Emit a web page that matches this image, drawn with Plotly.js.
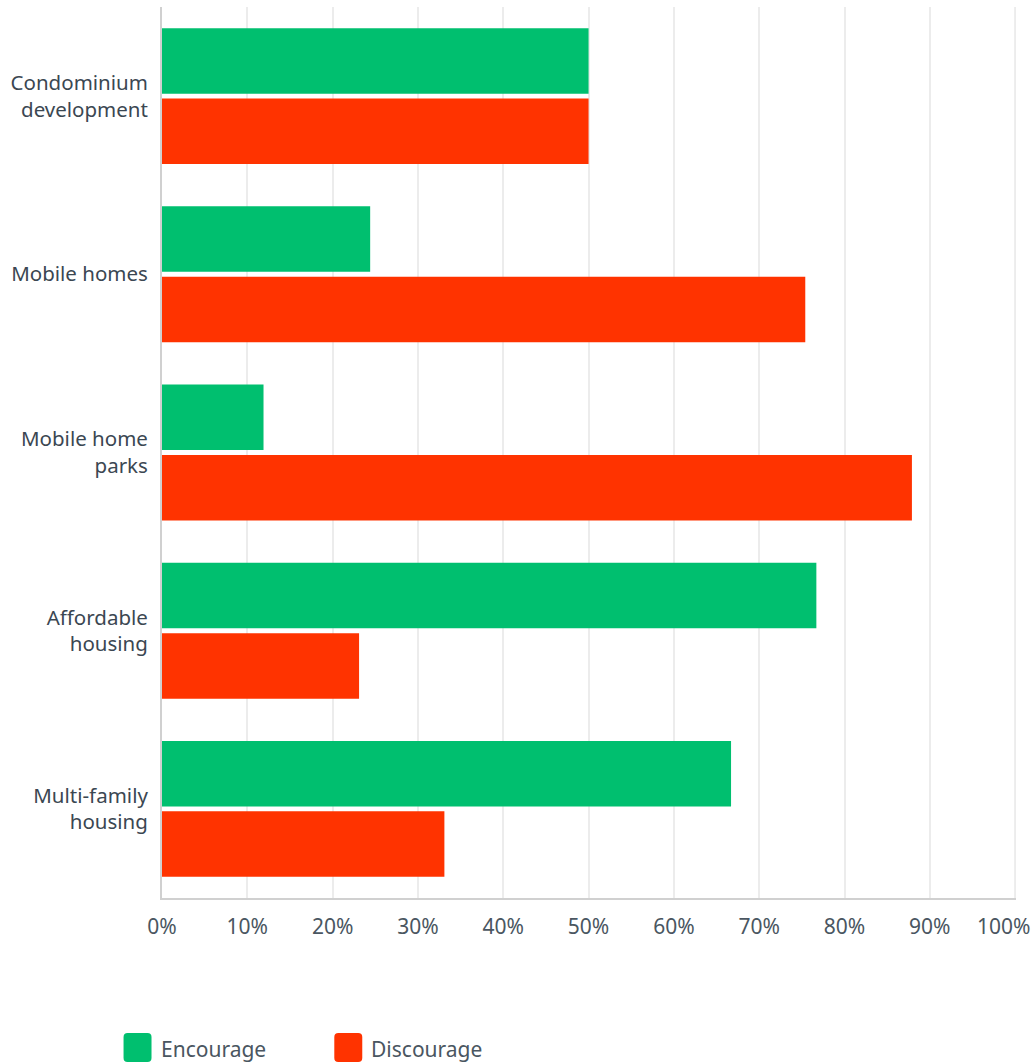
<!DOCTYPE html>
<html>
<head>
<meta charset="utf-8">
<script src="https://cdn.plot.ly/plotly-3.0.1.min.js"></script>
<style>html,body{margin:0;padding:0;background:#fff;}#chart{width:1036px;height:1063px;}</style>
</head>
<body>
<div id="chart"></div>
<script>
const categories = ["Condominium<br>development", "Mobile homes", "Mobile home<br>parks", "Affordable<br>housing", "Multi-family<br>housing"];
const encourage = [50.0, 24.4, 11.9, 76.7, 66.7];
const discourage = [50.0, 75.4, 87.9, 23.1, 33.1];
const seriesNames = ["Encourage", "Discourage"];
const colors = ["#00bf6f", "#ff3300"];
const tickVals = [0, 10, 20, 30, 40, 50, 60, 70, 80, 90, 100];
const tickText = ["0%", "10%", "20%", "30%", "40%", "50%", "60%", "70%", "80%", "90%", "100%"];

const FONT = "Noto Sans, Open Sans, sans-serif";
const traces = [encourage, discourage].map((vals, i) => ({
  type: "bar", orientation: "h", name: seriesNames[i],
  y: categories, x: vals,
  marker: {color: colors[i]}, hoverinfo: "x+y", showlegend: false
}));

const PL = 161.5, PW = 855, PB = 898, PH = 891;
const px = v => (v - PL) / PW;        // page x pixel -> paper x
const py = v => -(v - PB) / PH;       // page y pixel -> paper y
const shapes = [], annotations = [];
// gridline at the right end of the range
const last = tickVals.length - 1;
shapes.push({type: "line", xref: "x", yref: "paper", x0: tickVals[last], x1: tickVals[last],
  y0: 0, y1: 1, line: {color: "#ececec", width: 2}, layer: "below"});
// last tick label, kept inside the page like the reference
annotations.push({xref: "x", yref: "paper", x: tickVals[last], y: py(926),
  xanchor: "right", yanchor: "middle", xshift: 18, showarrow: false,
  text: tickText[last], font: {family: FONT, size: 21, color: "#4a5661"}});
const shownTicks = tickText.map((t, i) => i === last ? "" : t);

// custom legend (large rounded squares)
const legX = [123, 334];
seriesNames.forEach((n, i) => {
  const x0 = legX[i], x1 = legX[i] + 28, y0 = 1033, y1 = 1062, r = 4;
  const path = `M ${px(x0 + r)} ${py(y0)} L ${px(x1 - r)} ${py(y0)} Q ${px(x1)} ${py(y0)} ${px(x1)} ${py(y0 + r)} ` +
    `L ${px(x1)} ${py(y1 - r)} Q ${px(x1)} ${py(y1)} ${px(x1 - r)} ${py(y1)} ` +
    `L ${px(x0 + r)} ${py(y1)} Q ${px(x0)} ${py(y1)} ${px(x0)} ${py(y1 - r)} ` +
    `L ${px(x0)} ${py(y0 + r)} Q ${px(x0)} ${py(y0)} ${px(x0 + r)} ${py(y0)} Z`;
  shapes.push({type: "path", xref: "paper", yref: "paper", path: path,
    line: {width: 0}, fillcolor: colors[i], layer: "above"});
  annotations.push({xref: "paper", yref: "paper",
    x: px(legX[i] + 35), y: py(1049),
    xanchor: "left", yanchor: "middle", showarrow: false,
    text: n, font: {family: FONT, size: 21, color: "#4a5661"}});
});

const layout = {
  width: 1036, height: 1063,
  margin: {l: 161.5, r: 19.5, t: 7, b: 165},
  paper_bgcolor: "#fff", plot_bgcolor: "#fff",
  barmode: "group", bargap: 0.21, bargroupgap: 0.07,
  showlegend: false,
  font: {family: FONT, color: "#3b4752"},
  xaxis: {range: [0, 100.1], tickvals: tickVals, ticktext: shownTicks,
    showgrid: true, gridcolor: "#ececec", gridwidth: 2,
    zeroline: false, showline: true, linecolor: "#d0d0d0", linewidth: 2,
    ticks: "", ticklabelstandoff: 9,
    tickfont: {family: FONT, size: 21, color: "#4a5661"}, fixedrange: true},
  yaxis: {autorange: "reversed", type: "category",
    showgrid: false, zeroline: false, showline: true, linecolor: "#d0d0d0", linewidth: 2,
    ticks: "", ticklabelstandoff: 8,
    tickfont: {family: FONT, size: 20.5, color: "#3b4752"}, fixedrange: true},
  shapes: shapes, annotations: annotations
};

Plotly.newPlot("chart", traces, layout, {displayModeBar: false, staticPlot: true});
</script>
</body>
</html>
